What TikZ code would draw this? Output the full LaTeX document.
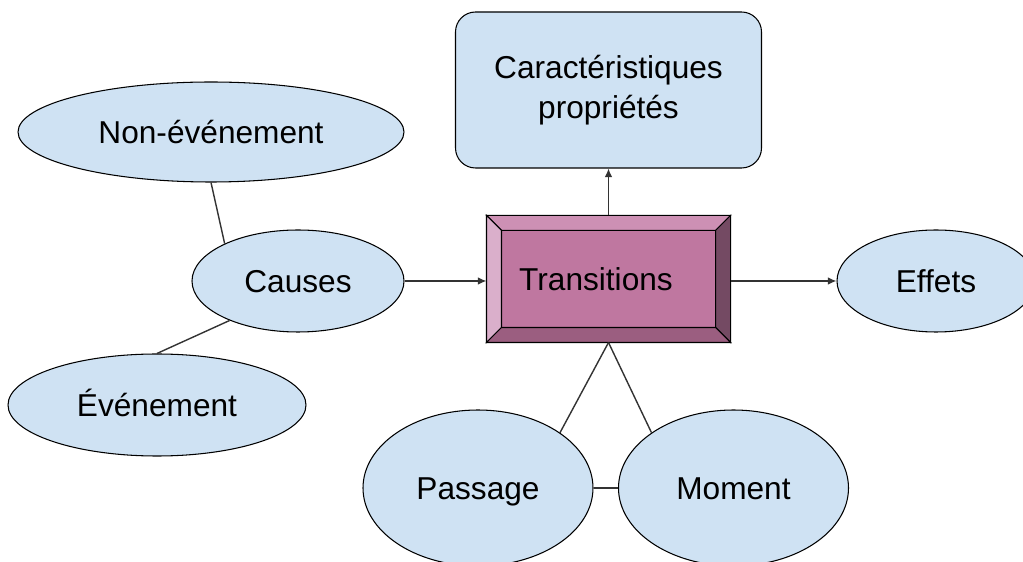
\documentclass[tikz,border=0pt]{standalone}
\usepackage{fontspec}
\setmainfont{Liberation Sans}
\usepackage{tikz}
\usetikzlibrary{calc, shapes.geometric, arrows.meta, positioning}
\definecolor{bleuclair}{HTML}{CFE2F3}
\definecolor{magface}{HTML}{BF77A0}
\definecolor{maghaut}{HTML}{CD90B4}
\definecolor{maggauche}{HTML}{DAAFCB}
\definecolor{magdroite}{HTML}{744A63}
\definecolor{magbas}{HTML}{9B5E80}
\definecolor{trait}{HTML}{333333}
\tikzset{
  bulle/.style={
    ellipse, draw=black, line width=0.6pt, fill=bleuclair,
    inner sep=0pt, text centered, text height=12.9pt, text depth=0pt
  },
  cadre/.style={
    rectangle, rounded corners=0.4cm, draw=black, line width=0.6pt,
    fill=bleuclair, minimum width=6.12cm, minimum height=3.12cm,
    align=center
  },
  noyau/.style={
    rectangle, draw=black, line width=0.6pt, fill=magface,
    minimum width=4.86cm, minimum height=2.52cm, text centered,
    text height=12.9pt, text depth=0pt
  },
  arrow/.style={
    -{Latex[length=1.7mm,width=1.5mm]}, line width=0.8pt, color=trait
  },
  lien/.style={
    line width=0.8pt, color=trait
  }
}

\begin{document}
\begin{tikzpicture}[
  every node/.style={font=\fontsize{18}{20}\selectfont}
]
\useasboundingbox (0,0) rectangle (20.46,-11.24);

% Centre
\node[noyau] (trans) at (12.17,-5.58) {\hspace*{-0.5cm}Transitions};
\node[cadre, font=\fontsize{18}{23}\selectfont] (carac) at (12.17,-1.80) {Caractéristiques\\propriétés};

% Left side
\node[bulle, minimum width=7.72cm, minimum height=2.0cm] (nonevt) at (4.22,-2.64) {Non-événement};
\node[bulle, minimum width=4.24cm, minimum height=2.04cm] (causes) at (5.96,-5.62) {Causes};
\node[bulle, minimum width=5.96cm, minimum height=2.04cm] (evt) at (3.14,-8.10) {Événement};

% Right side
\node[bulle, minimum width=3.96cm, minimum height=2.04cm] (effets) at (18.72,-5.62) {Effets};

% Bottom
\node[bulle, minimum width=4.6cm, minimum height=3.12cm] (passage) at (9.56,-9.76) {Passage};
\node[bulle, minimum width=4.6cm, minimum height=3.12cm] (moment) at (14.67,-9.76) {Moment};

% Bevel of the central box
\fill[maghaut, draw=black, line width=0.6pt] (trans.north west) -- (trans.north east)
  -- ($(trans.north east)+(-0.3,-0.3)$) -- ($(trans.north west)+(0.3,-0.3)$) -- cycle;
\fill[maggauche, draw=black, line width=0.6pt] (trans.north west) -- (trans.south west)
  -- ($(trans.south west)+(0.3,0.3)$) -- ($(trans.north west)+(0.3,-0.3)$) -- cycle;
\fill[magdroite, draw=black, line width=0.6pt] (trans.north east) -- (trans.south east)
  -- ($(trans.south east)+(-0.3,0.3)$) -- ($(trans.north east)+(-0.3,-0.3)$) -- cycle;
\fill[magbas, draw=black, line width=0.6pt] (trans.south west) -- (trans.south east)
  -- ($(trans.south east)+(-0.3,0.3)$) -- ($(trans.south west)+(0.3,0.3)$) -- cycle;

% Arrows
\draw[arrow] (causes.east) -- (causes.east -| trans.west);
\draw[arrow] (trans.east |- effets.west) -- (effets.west);
\draw[arrow] (trans.north) -- (carac.south);

% Lines
\draw[lien] (nonevt.south) -- (causes.153);
\draw[lien] (causes.210) -- (evt.north);
\draw[lien] (trans.south) -- (passage.34);
\draw[lien] (trans.south) -- (moment.146);
\draw[lien] (passage.east) -- (moment.west);

\end{tikzpicture}
\end{document}
